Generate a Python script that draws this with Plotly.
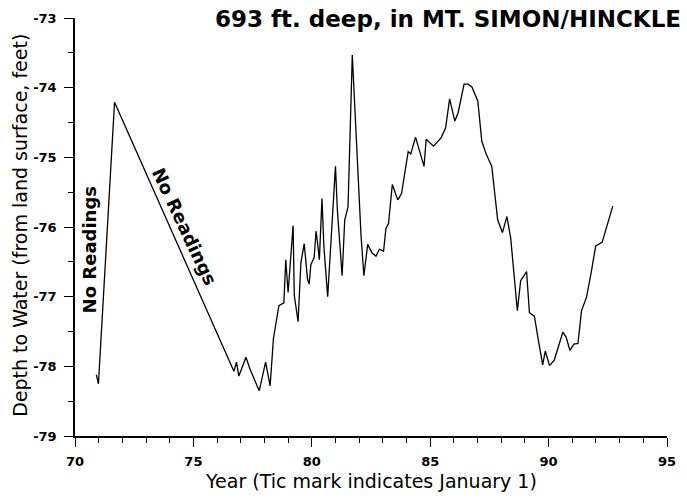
import plotly.graph_objects as go

# Water-level record: decimal year (19xx) and depth to water (feet below land surface, negative down)
years = [
    70.90, 70.99, 71.67, 76.71, 76.82, 76.92, 77.22, 77.40, 77.78, 78.05,
    78.24, 78.38, 78.61, 78.82, 78.90, 79.00, 79.21, 79.26, 79.42, 79.54,
    79.68, 79.82, 79.89, 79.96, 80.10, 80.18, 80.25, 80.32, 80.43, 80.51,
    80.67, 81.00, 81.08, 81.28, 81.39, 81.53, 81.71, 82.08, 82.20, 82.36,
    82.54, 82.71, 82.85, 83.03, 83.13, 83.24, 83.40, 83.63, 83.79, 84.07,
    84.18, 84.38, 84.74, 84.83, 85.14, 85.46, 85.65, 85.82, 86.04, 86.18,
    86.43, 86.60, 86.76, 87.01, 87.18, 87.36, 87.60, 87.85, 88.05, 88.24,
    88.40, 88.68, 88.82, 89.07, 89.19, 89.40, 89.58, 89.75, 89.86, 90.04,
    90.24, 90.42, 90.60, 90.74, 90.90, 91.07, 91.24, 91.39, 91.60, 91.80,
    91.99, 92.26, 92.71,
]
depth = [
    -78.12, -78.25, -74.21, -78.07, -77.94, -78.14, -77.87, -78.05, -78.35, -77.94,
    -78.28, -77.60, -77.13, -77.09, -76.47, -76.94, -75.98, -76.98, -77.36, -76.51,
    -76.24, -76.75, -76.82, -76.54, -76.44, -76.06, -76.25, -76.47, -75.59, -76.28,
    -77.00, -75.13, -75.76, -76.70, -75.90, -75.71, -73.53, -76.13, -76.70, -76.25,
    -76.37, -76.42, -76.32, -76.35, -76.02, -75.95, -75.39, -75.61, -75.52, -74.92,
    -74.95, -74.71, -75.13, -74.74, -74.84, -74.72, -74.58, -74.16, -74.48, -74.36,
    -73.95, -73.95, -73.99, -74.19, -74.77, -74.95, -75.13, -75.90, -76.08, -75.85,
    -76.16, -77.20, -76.77, -76.64, -77.23, -77.28, -77.65, -77.98, -77.78, -77.99,
    -77.91, -77.69, -77.51, -77.58, -77.77, -77.68, -77.67, -77.20, -77.01, -76.65,
    -76.27, -76.22, -75.70,
]

x_range = [70, 95]
y_range = [-79, -73]
x_tickvals = [70, 75, 80, 85, 90, 95]
x_ticktext = ["70", "75", "80", "85", "90", "95"]
y_tickvals = [-79, -78, -77, -76, -75, -74, -73]
y_ticktext = ["-79", "-78", "-77", "-76", "-75", "-74", "-73"]

title_text = "693 ft. deep, in MT. SIMON/HINCKLE"
x_title = "Year (Tic mark indicates January 1)"
y_title = "Depth to Water (from land surface, feet)"
gap_label = "No Readings"

W, H = 687, 499
L, R, T, B = 75, 11, 12, 63

fig = go.Figure()
fig.add_trace(go.Scatter(
    x=years, y=depth, mode="lines",
    line=dict(color="black", width=1.3),
    showlegend=False, hoverinfo="skip",
))

tick_font = dict(family="DejaVu Sans", size=13, color="black", weight="bold")
axis_common = dict(
    showline=True, linecolor="black", linewidth=1.5,
    showgrid=False, zeroline=False, mirror=False,
    ticks="outside", ticklen=9, tickwidth=1.3, tickcolor="black",
    tickfont=tick_font, tickmode="array",
)

fig.update_xaxes(
    range=x_range, tickvals=x_tickvals, ticktext=x_ticktext,
    minor=dict(tick0=70, dtick=1, ticks="outside", ticklen=5, tickwidth=1.2, tickcolor="black"),
    ticklabelstandoff=4,
    **axis_common,
)
fig.update_yaxes(
    range=y_range, tickvals=y_tickvals, ticktext=y_ticktext,
    minor=dict(tick0=-79, dtick=0.5, ticks="outside", ticklen=5, tickwidth=1.2, tickcolor="black"),
    ticklabelstandoff=5,
    **axis_common,
)

pw = W - L - R
ph = H - T - B

def px_x(px):
    return (px - L) / pw

def px_y(py):
    return 1 - (py - T) / ph

annotations = [
    # chart heading, left-aligned near the top edge
    dict(text=title_text, xref="paper", yref="paper", x=px_x(215), y=px_y(13),
         xanchor="left", yanchor="middle", showarrow=False,
         font=dict(family="DejaVu Sans", size=23, color="black", weight="bold")),
    # axis titles
    dict(text=x_title, xref="paper", yref="paper", x=px_x(375), y=px_y(482),
         xanchor="center", yanchor="middle", showarrow=False,
         font=dict(family="DejaVu Sans", size=19, color="black")),
    dict(text=y_title, xref="paper", yref="paper", x=px_x(19), y=px_y(222),
         xanchor="center", yanchor="middle", textangle=-90, showarrow=False,
         font=dict(family="DejaVu Sans", size=19, color="black")),
    # gap labels along the data
    dict(text=gap_label, xref="x", yref="y", x=70.65, y=-76.33,
         xanchor="center", yanchor="middle", textangle=-90, showarrow=False,
         font=dict(family="DejaVu Sans", size=18, color="black", weight="bold")),
    dict(text=gap_label, xref="x", yref="y", x=74.63, y=-75.99,
         xanchor="center", yanchor="middle", textangle=64.7, showarrow=False,
         font=dict(family="DejaVu Sans", size=18, color="black", weight="bold")),
]

fig.update_layout(
    width=W, height=H,
    margin=dict(l=L, r=R, t=T, b=B, pad=0),
    paper_bgcolor="white", plot_bgcolor="white",
    annotations=annotations,
)

fig.write_html("out.html")
